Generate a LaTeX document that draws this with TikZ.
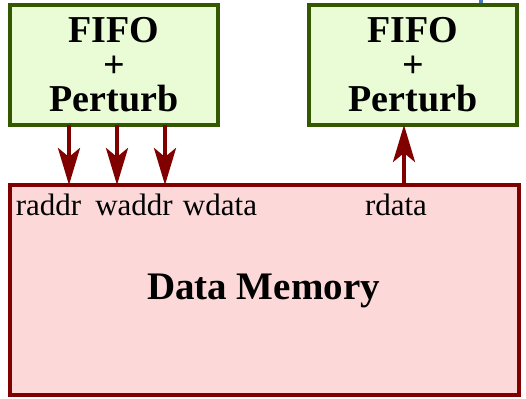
\documentclass[tikz,border=0pt]{standalone}
\usepackage{fontspec}
\setmainfont{Liberation Serif}
\usetikzlibrary{arrows.meta}

\definecolor{fifofill}{RGB}{234,252,214}
\definecolor{fifoline}{RGB}{52,88,0}
\definecolor{memfill}{RGB}{252,216,216}
\definecolor{memline}{RGB}{128,0,0}
\definecolor{busblue}{RGB}{72,122,190}

\tikzset{
  fifobox/.style={draw=fifoline, fill=fifofill, line width=4pt, outer sep=0pt,
    minimum width=208pt, minimum height=120pt, inner sep=0pt, align=center,
    font=\fontsize{38}{34.5}\selectfont\bfseries},
  membox/.style={draw=memline, fill=memfill, line width=4.5pt, outer sep=0pt,
    minimum width=509pt, minimum height=210pt, inner sep=0pt},
  portlabel/.style={anchor=base, inner sep=0pt, font=\fontsize{31}{33}\selectfont},
  titlelabel/.style={anchor=base, inner sep=0pt, font=\fontsize{39}{40}\selectfont\bfseries},
  bus/.style={draw=memline, line width=4pt,
    -{Stealth[length=37pt, width=22pt, inset=9pt]}},
}

\begin{document}
\begin{tikzpicture}[x=1pt, y=-1pt]
  \useasboundingbox (0,0) rectangle (526,398);

  % stub of a wire entering from above
  \draw[busblue, line width=3.5pt] (481,0) -- (481,5);

  % FIFO + Perturb units
  \node[fifobox] (fifoL) at (114,65) {FIFO\\+\\Perturb};
  \node[fifobox] (fifoR) at (413,65) {FIFO\\+\\Perturb};

  % data memory
  \node[membox] (mem) at (264.5,290) {};
  \node[titlelabel] (memtitle) at (263.5,299) {Data Memory};

  % port positions on the memory's top edge
  \coordinate (praddr) at (69,185);
  \coordinate (pwaddr) at (117,185);
  \coordinate (pwdata) at (165,185);
  \coordinate (prdata) at (404,185);

  \node[portlabel] (lraddr) at (48.5,215) {raddr};
  \node[portlabel] (lwaddr) at (134,215) {waddr};
  \node[portlabel] (lwdata) at (220,215) {wdata};
  \node[portlabel] (lrdata) at (396,215) {rdata};

  % buses
  \draw[bus] (praddr |- fifoL.south) -- (praddr);
  \draw[bus] (pwaddr |- fifoL.south) -- (pwaddr);
  \draw[bus] (pwdata |- fifoL.south) -- (pwdata);
  \draw[bus] (prdata) -- (prdata |- fifoR.south);
\end{tikzpicture}
\end{document}
